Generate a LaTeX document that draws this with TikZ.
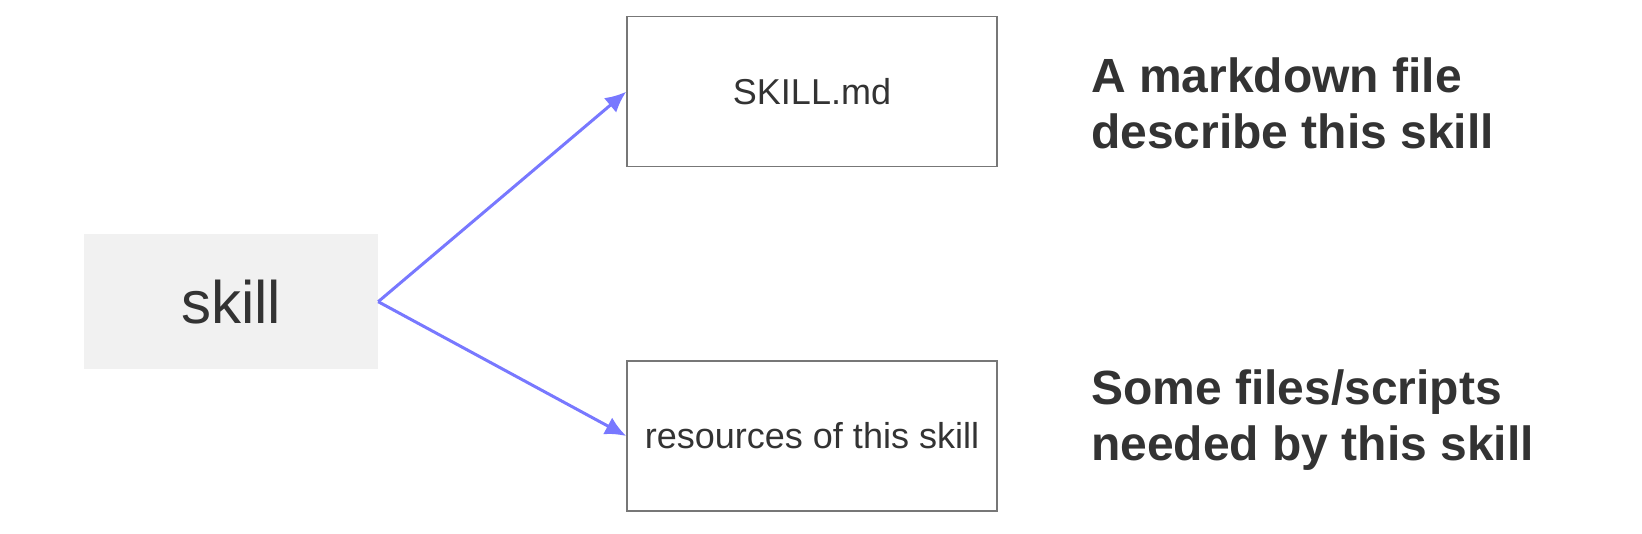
\documentclass[tikz,border=0pt]{standalone}
\usepackage{fontspec}
\setmainfont{Liberation Sans}
\usetikzlibrary{arrows.meta,positioning}
\definecolor{Ink}{HTML}{333333}
\definecolor{Frame}{HTML}{777777}
\definecolor{Shade}{HTML}{F1F1F1}
\definecolor{Link}{HTML}{7878FF}

\begin{document}
\begin{tikzpicture}[
  x=1pt, y=-1pt,
  skillbox/.style={rectangle, fill=Shade, minimum width=294pt, minimum height=135pt, text=Ink, font=\fontsize{60}{60}\selectfont},
  filebox/.style={rectangle, draw=Frame, line width=1.5pt, fill=white, minimum width=370pt, minimum height=150pt, text=Ink, font=\fontsize{36}{36}\selectfont},
  note/.style={anchor=base west, inner sep=0pt, align=left, text=Ink, font=\fontsize{48}{56.5}\selectfont\bfseries},
  arrow/.style={-{Latex[length=21pt, width=19pt]}, line width=3pt, draw=Link}
]
\useasboundingbox (0,0) rectangle (1642,534);
\node[skillbox] (skill) at (231,301.7) {skill};
\node[filebox] (md) at (812,91.7) {SKILL.md};
\node[filebox] (res) at (812,436) {resources of this skill};
% base anchor sits on the last line
\node[note] (mdnote) at (1091,148.7) {A markdown file\\describe this skill};
\node[note] (resnote) at (1091,460.8) {Some files/scripts\\needed by this skill};
\draw[arrow] (skill.east) -- (md.west);
\draw[arrow] (skill.east) -- (res.west);
\end{tikzpicture}
\end{document}
